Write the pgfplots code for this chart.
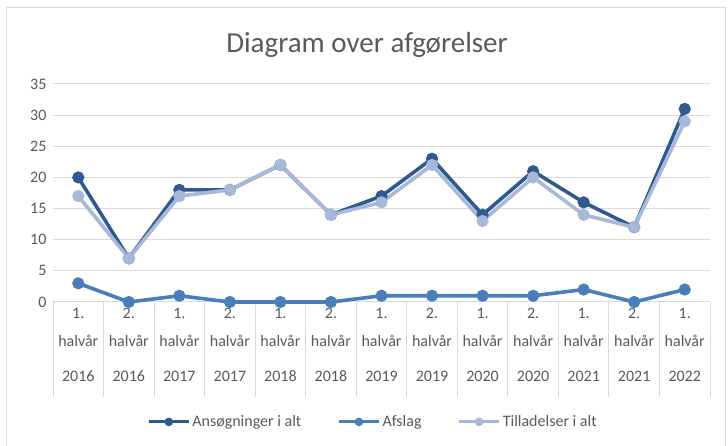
\documentclass[border=0pt]{standalone}
\usepackage{pgfplots}
\pgfplotsset{compat=1.18}
\usepackage{fontspec}
\setmainfont{Carlito}
\definecolor{cDark}{HTML}{2F5A8F}
\definecolor{cMid}{HTML}{4A7EBB}
\definecolor{cLight}{HTML}{A8B8D8}
\definecolor{cGrid}{HTML}{D9D9D9}
\definecolor{cText}{HTML}{595959}
\begin{document}
\begin{tikzpicture}[x=1pt,y=1pt]
\useasboundingbox (0,0) rectangle (728,446);
\draw[cGrid,line width=1pt] (6,0) -- (6,438) -- (725,438) -- (725,0);
\node[text=cText,font=\fontsize{29}{34}\selectfont] at (367,401) {Diagram over afgørelser};
\begin{axis}[
  at={(53pt,144pt)}, anchor=south west,
  scale only axis, width=657pt, height=218pt,
  xmin=-0.5, xmax=12.5, ymin=0, ymax=35,
  ytick={0,5,...,35},
  xtick={0,...,12},
  minor xtick={-0.5,0.5,...,12.5},
  xticklabels={{1.\\[8pt]halvår\\[15pt]2016},{2.\\[8pt]halvår\\[15pt]2016},{1.\\[8pt]halvår\\[15pt]2017},{2.\\[8pt]halvår\\[15pt]2017},{1.\\[8pt]halvår\\[15pt]2018},{2.\\[8pt]halvår\\[15pt]2018},{1.\\[8pt]halvår\\[15pt]2019},{2.\\[8pt]halvår\\[15pt]2019},{1.\\[8pt]halvår\\[15pt]2020},{2.\\[8pt]halvår\\[15pt]2020},{1.\\[8pt]halvår\\[15pt]2021},{2.\\[8pt]halvår\\[15pt]2021},{1.\\[8pt]halvår\\[15pt]2022}},
  xticklabel style={align=center, font=\fontsize{16}{20}\selectfont, text=cText, anchor=north, yshift=-3pt},
  yticklabel style={font=\fontsize{16}{19}\selectfont, text=cText, xshift=-3pt},
  /pgf/number format/assume math mode=true,
  axis line style={draw=none},
  ymajorgrids, grid style={cGrid, line width=1pt},
  major tick length=0pt,
  minor tick length=95pt,
  xtick align=outside,
  xtick pos=bottom,
  minor x tick style={cGrid, line width=1pt},
  ytick style={draw=none},
  legend columns=3,
  legend style={at={(0.487,-0.55)}, anchor=center, draw=none, fill=none,
    font=\fontsize{16}{19}\selectfont, text=cText,
    /tikz/every even column/.append style={column sep=34pt}},
  legend image code/.code={\draw[#1, line width=3.2pt, mark size=2.6pt, mark repeat=2, mark phase=2] plot coordinates {(0pt,0pt) (20pt,0pt) (40pt,0pt)};},
  every axis plot/.append style={line width=3.6pt, mark=*, mark size=4.2pt, mark options={solid}},
  clip=false,
]
\addplot[color=cDark] coordinates {(0,20) (1,7) (2,18) (3,18) (4,22) (5,14) (6,17) (7,23) (8,14) (9,21) (10,16) (11,12) (12,31)};
\addlegendentry{Ansøgninger i alt}
\addplot[color=cMid] coordinates {(0,3) (1,0) (2,1) (3,0) (4,0) (5,0) (6,1) (7,1) (8,1) (9,1) (10,2) (11,0) (12,2)};
\addlegendentry{Afslag}
\addplot[color=cLight] coordinates {(0,17) (1,7) (2,17) (3,18) (4,22) (5,14) (6,16) (7,22) (8,13) (9,20) (10,14) (11,12) (12,29)};
\addlegendentry{Tilladelser i alt}
\end{axis}
\end{tikzpicture}
\end{document}
